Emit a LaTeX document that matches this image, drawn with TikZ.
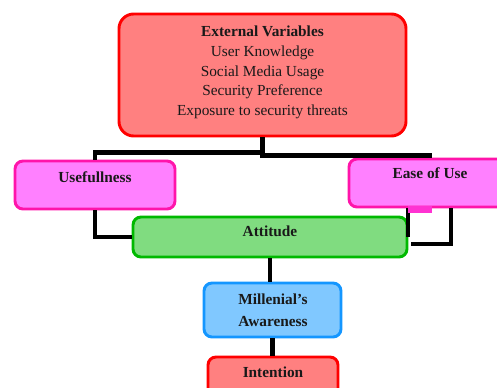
\documentclass[tikz,border=0pt]{standalone}
\usepackage{fontspec}
\setmainfont{Liberation Serif}
\usetikzlibrary{calc}
\definecolor{redB}{RGB}{255,0,0}
\definecolor{redF}{RGB}{255,128,128}
\definecolor{magB}{RGB}{255,20,170}
\definecolor{magF}{RGB}{255,128,255}
\definecolor{magD}{RGB}{255,50,210}
\definecolor{grnB}{RGB}{0,185,0}
\definecolor{grnF}{RGB}{128,220,128}
\definecolor{bluB}{RGB}{20,150,255}
\definecolor{bluF}{RGB}{128,200,255}
\tikzset{
  box/.style={draw, line width=2.2pt, rounded corners=6pt, inner sep=0pt},
  txt/.style={font=\fontsize{11.5}{14.8}\selectfont, inner sep=0pt, align=center, text=black!90},
  conn/.style={line width=3.4pt, black}
}
\begin{document}
\begin{tikzpicture}[x=0.75pt, y=-0.75pt]
\useasboundingbox (0,0) rectangle (497,387);
\clip (0,0) rectangle (497,387);
% boxes
\node[box, draw=redB, fill=redF, rounded corners=11pt, minimum width=287*0.75pt, minimum height=122*0.75pt] (ext) at (262.5,75) {};
\node[box, draw=magB, fill=magF, minimum width=160*0.75pt, minimum height=48*0.75pt] (use) at (95,185) {};
\node[box, draw=magB, fill=magF, minimum width=162*0.75pt, minimum height=48*0.75pt] (ease) at (430,183) {};
\node[box, draw=grnB, fill=grnF, minimum width=274*0.75pt, minimum height=40*0.75pt] (att) at (270,237) {};
\node[box, draw=bluB, fill=bluF, minimum width=137*0.75pt, minimum height=54*0.75pt] (mil) at (272.5,310) {};
\node[box, draw=redB, fill=redF, minimum width=130*0.75pt, minimum height=50*0.75pt] (int) at (273,382) {};
% texts
\node[txt] (extT) at (262.5,72.5) {\textbf{External Variables}\\User Knowledge\\Social Media Usage\\Security Preference\\Exposure to security threats};
\node[txt] (useT) at (95,177) {\textbf{Usefullness}};
\node[txt] (easeT) at (430,173) {\textbf{Ease of Use}};
\node[txt] (attT) at (270,231) {\textbf{Attitude}};
\node[txt] (milT) at (273,310) {\textbf{Millenial’s}\\[2pt]\textbf{Awareness}};
\node[txt] (intT) at (273,372) {\textbf{Intention}};
% connectors
\draw[conn] (ext.south) -- ++(0,15) -| (use.north);
\draw[conn] (ext.south) -- ++(0,18) -| (ease.north);
\draw[conn] (use.south) |- (att.west);
\draw[conn] ($(ease.south)+(-22,0)$) coordinate (e1) -- ++(0,29);
\draw[conn] ($(ease.south)+(21,0)$) |- ($(att.east)+(3,7)$) coordinate (e2);
\fill[magD] ($(ease.south)+(-22,-2)$) rectangle ($(ease.south)+(2,5)$);
\draw[conn] (att.south) -- (att.south |- mil.north);
\draw[conn] (mil.south) -- (mil.south |- int.north);
\end{tikzpicture}
\end{document}
